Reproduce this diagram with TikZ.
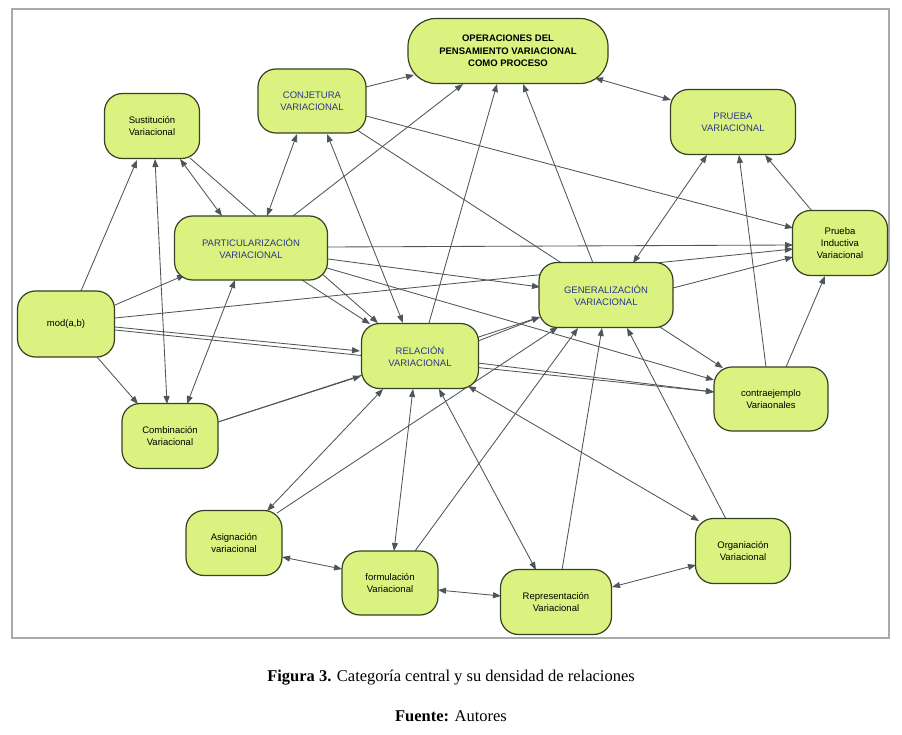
\documentclass[tikz,border=0pt]{standalone}
\usepackage{fontspec}
\setmainfont{Liberation Sans}
\newfontfamily\capfont{Liberation Serif}
\usetikzlibrary{arrows.meta}
\pgfdeclarelayer{bg}
\pgfdeclarelayer{edges}
\pgfsetlayers{bg,edges,main}
\definecolor{boxfill}{RGB}{220,242,128}
\definecolor{boxline}{RGB}{55,65,35}
\definecolor{linegray}{RGB}{80,85,90}
\definecolor{txtblue}{RGB}{40,55,140}
\definecolor{framegray}{RGB}{170,170,170}
\newcommand\myedge[7]{\draw[#1] ([shift={(#3,#4)}]#2.center) -- ([shift={(#6,#7)}]#5.center);}
\begin{document}
\begin{tikzpicture}[x=1pt,y=-1pt,
  box/.style={draw=boxline, line width=1.2pt, fill=boxfill, rounded corners=18pt,
    align=center, font=\fontsize{9.5}{12}\selectfont, inner sep=0pt, text=black},
  upper/.style={box, text=txtblue},
  conn/.style={draw=linegray, line width=0.85pt},
  a/.style={conn, -{Triangle[length=8pt,width=6pt]}},
  ab/.style={conn, {Triangle[length=8pt,width=6pt]}-{Triangle[length=8pt,width=6pt]}},
  pl/.style={conn}
]
\useasboundingbox (0,0) rectangle (902,735);
\begin{pgfonlayer}{bg}
\fill[white] (0,0) rectangle (902,735);
\draw[framegray, line width=1.4pt] (12,9) rectangle (889,638);
\end{pgfonlayer}

% nodes
\node[box, rounded corners=28pt, minimum width=200pt, minimum height=65pt, font=\fontsize{9.5}{12.5}\selectfont\bfseries] (ops) at (508,51) {OPERACIONES DEL\\PENSAMIENTO VARIACIONAL\\COMO PROCESO};
\node[upper, minimum width=108pt, minimum height=64pt] (conj) at (312,101) {CONJETURA\\VARIACIONAL};
\node[box, minimum width=95pt, minimum height=65pt] (sust) at (152,126) {Sustitución\\Variacional};
\node[upper, minimum width=153pt, minimum height=64pt] (part) at (251,248) {PARTICULARIZACIÓN\\VARIACIONAL};
\node[upper, minimum width=125pt, minimum height=65pt] (prueba) at (733,122) {PRUEBA\\VARIACIONAL};
\node[box, minimum width=95pt, minimum height=65pt] (piv) at (840,243) {Prueba\\Inductiva\\Variacional};
\node[upper, minimum width=134pt, minimum height=65pt] (gen) at (606,295) {GENERALIZACIÓN\\VARIACIONAL};
\node[box, minimum width=97pt, minimum height=66pt] (mod) at (66,324) {mod(a,b)};
\node[upper, minimum width=117pt, minimum height=65pt] (rel) at (420,356) {RELACIÓN\\VARIACIONAL};
\node[box, minimum width=96pt, minimum height=65pt] (comb) at (170,436) {Combinación\\Variacional};
\node[box, minimum width=114pt, minimum height=64pt] (contra) at (771,399) {contraejemplo\\Variaonales};
\node[box, minimum width=96pt, minimum height=65pt] (asig) at (234,543) {Asignación\\variacional};
\node[box, minimum width=96pt, minimum height=64pt] (form) at (390,583) {formulación\\Variacional};
\node[box, minimum width=111pt, minimum height=65pt] (repr) at (556,602) {Representación\\Variacional};
\node[box, minimum width=95pt, minimum height=65pt] (org) at (743,551) {Organiación\\Variacional};

% captions
\node[font=\capfont\fontsize{16.5}{19}\selectfont] (cap1) at (451,678) {\textbf{Figura 3.} Categoría central y su densidad de relaciones};
\node[font=\capfont\fontsize{16.5}{19}\selectfont] (cap2) at (451,716) {\textbf{Fuente:} Autores};

% edges
\begin{pgfonlayer}{edges}
\myedge{a}{mod}{15}{-33}{sust}{-15}{34}
\myedge{ab}{sust}{3}{33}{comb}{-3}{-32}
\myedge{ab}{sust}{28}{33}{part}{-29}{-32}
\myedge{a}{sust}{38}{32}{rel}{-42}{-33}
\myedge{ab}{conj}{-15}{33}{part}{16}{-32}
\myedge{ab}{conj}{15}{33}{rel}{-17}{-33}
\myedge{a}{part}{42}{-32}{ops}{-45}{33}
\myedge{a}{conj}{54}{-14}{ops}{-94}{24}
\myedge{a}{conj}{54}{15}{piv}{-47}{-15}
\myedge{a}{conj}{45}{29}{contra}{-48}{-31}
\myedge{ab}{ops}{87}{27}{prueba}{-62}{-22}
\myedge{ab}{prueba}{-26}{33}{gen}{27}{-32}
\myedge{a}{piv}{-28}{-32}{prueba}{32}{33}
\myedge{a}{contra}{-5}{-32}{prueba}{6}{33}
\myedge{a}{contra}{15}{-32}{piv}{-15}{33}
\myedge{a}{gen}{-13}{-32}{ops}{15}{33}
\myedge{a}{rel}{9}{-33}{ops}{-11}{33}
\myedge{a}{part}{77}{-1}{piv}{-47}{2}
\myedge{a}{mod}{49}{-6}{piv}{-47}{6}
\myedge{a}{gen}{67}{-7}{piv}{-47}{14}
\myedge{a}{part}{77}{11}{gen}{-66}{-8}
\myedge{a}{part}{76}{20}{contra}{-57}{-19}
\myedge{a}{part}{51}{32}{rel}{-50}{-32}
\myedge{a}{mod}{49}{-19}{part}{-66}{27}
\myedge{a}{mod}{49}{3}{rel}{-60}{-5}
\myedge{a}{mod}{49}{6}{contra}{-57}{-7}
\myedge{a}{mod}{31}{33}{comb}{-32}{-32}
\myedge{ab}{part}{-16}{32}{comb}{17}{-32}
\myedge{a}{comb}{48}{-14}{rel}{-59}{20}
\myedge{a}{comb}{48}{-14}{gen}{-66}{22}
\myedge{a}{rel}{58}{-15}{gen}{-66}{22}
\myedge{a}{rel}{58}{7}{contra}{-57}{-7}
\myedge{ab}{rel}{-37}{33}{asig}{33}{-32}
\myedge{a}{asig}{43}{-30}{gen}{-48}{32}
\myedge{ab}{rel}{-7}{33}{form}{4}{-32}
\myedge{a}{form}{25}{-32}{gen}{-28}{33}
\myedge{ab}{rel}{19}{33}{repr}{-20}{-32}
\myedge{a}{repr}{6}{-32}{gen}{-4}{33}
\myedge{a}{org}{-17}{-32}{gen}{21}{33}
\myedge{ab}{rel}{48}{30}{org}{-44}{-30}
\myedge{ab}{asig}{48}{14}{form}{-48}{-14}
\myedge{ab}{form}{48}{7}{repr}{-55}{-6}
\myedge{ab}{repr}{56}{-15}{org}{-47}{14}
\end{pgfonlayer}
\end{tikzpicture}
\end{document}
